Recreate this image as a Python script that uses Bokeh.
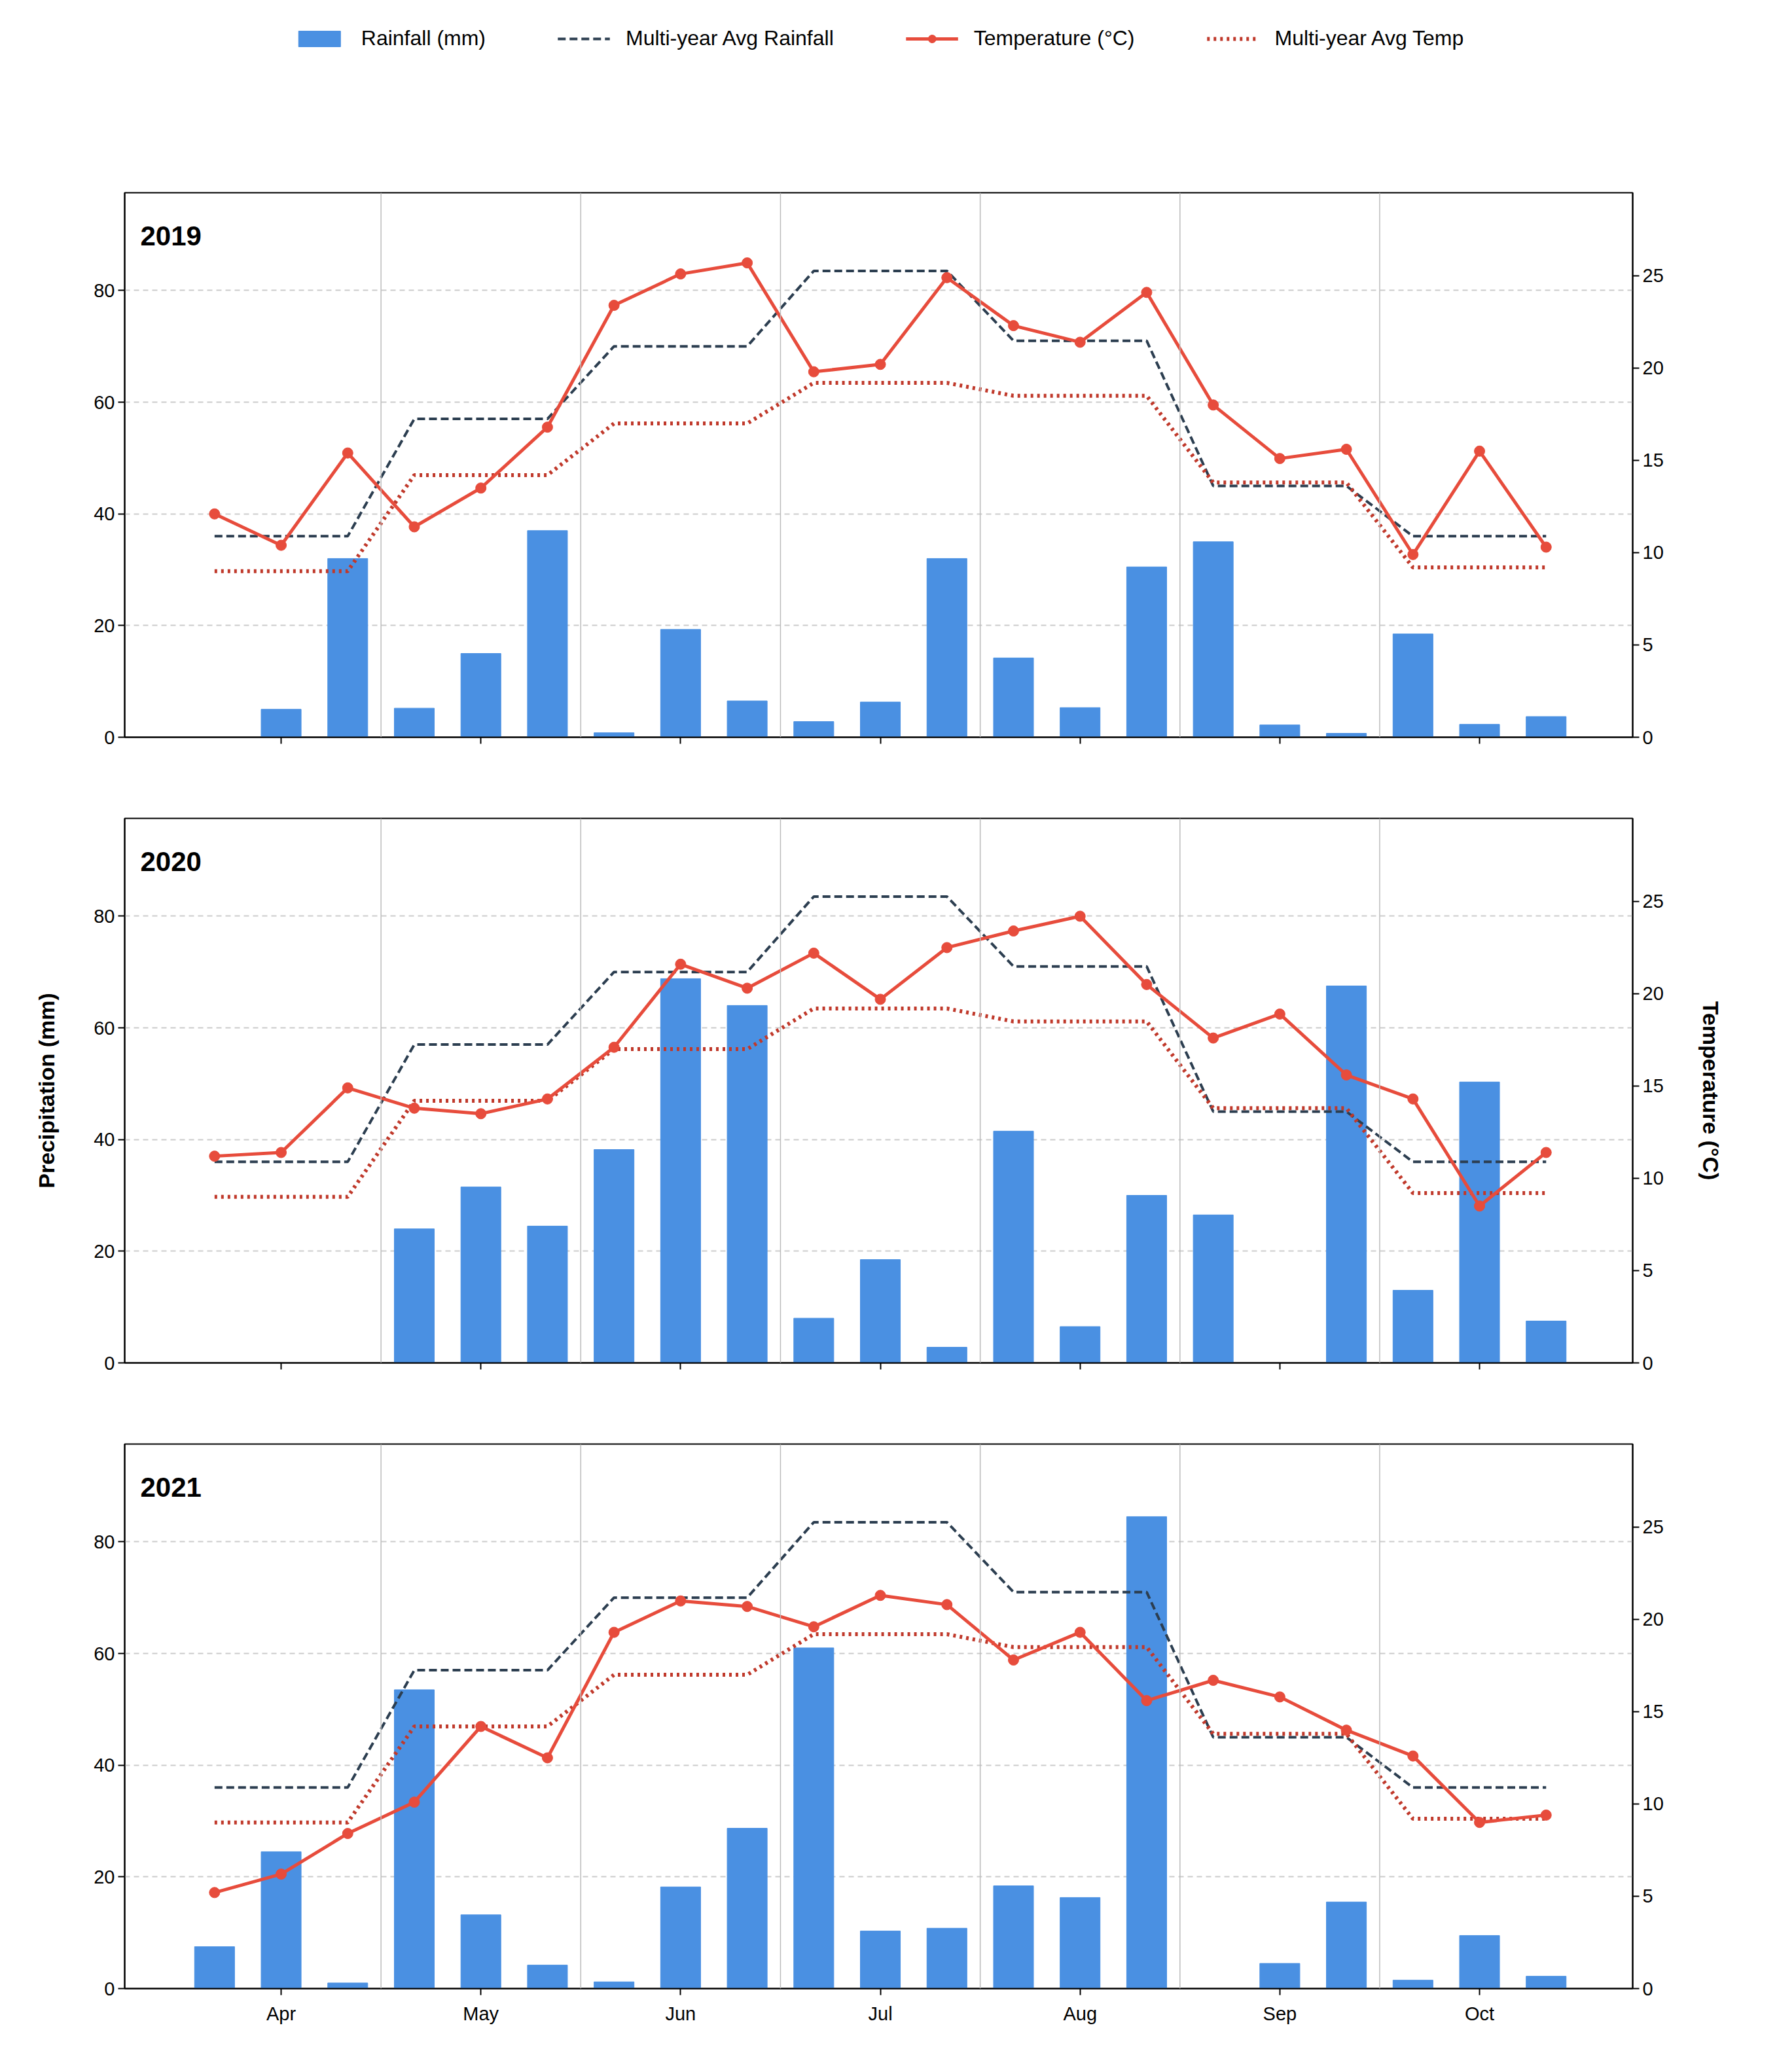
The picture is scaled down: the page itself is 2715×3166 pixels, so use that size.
from bokeh.plotting import figure
from bokeh.models import Range1d, LinearAxis, Label, Span, FixedTicker, Legend, LegendItem
from bokeh.layouts import column
from bokeh.embed import file_html
from bokeh.resources import INLINE

years = ["2019", "2020", "2021"]
months = ["Apr", "May", "Jun", "Jul", "Aug", "Sep", "Oct"]
avg_rain_month = [36, 57, 70, 83.5, 71, 45, 36]
avg_temp_month = [9, 14.2, 17, 19.2, 18.5, 13.8, 9.2]
rain = {
    "2019": [0, 5, 32, 5.2, 15, 37, 0.8, 19.3, 6.5, 2.8, 6.3, 32, 14.2, 5.3, 30.5, 35, 2.2, 0.7, 18.5, 2.3, 3.7],
    "2020": [0, 0, 0, 24, 31.5, 24.5, 38.2, 68.8, 64, 8, 18.5, 2.8, 41.5, 6.5, 30, 26.5, 0, 67.5, 13, 50.3, 7.5],
    "2021": [7.5, 24.5, 1, 53.5, 13.2, 4.2, 1.2, 18.2, 28.7, 61, 10.3, 10.8, 18.4, 16.3, 84.5, 0, 4.5, 15.5, 1.5, 9.5, 2.2],
}
temp = {
    "2019": [12.1, 10.4, 15.4, 11.4, 13.5, 16.8, 23.4, 25.1, 25.7, 19.8, 20.2, 24.9, 22.3, 21.4, 24.1, 18.0, 15.1, 15.6, 9.9, 15.5, 10.3],
    "2020": [11.2, 11.4, 14.9, 13.8, 13.5, 14.3, 17.1, 21.6, 20.3, 22.2, 19.7, 22.5, 23.4, 24.2, 20.5, 17.6, 18.9, 15.6, 14.3, 8.5, 11.4],
    "2021": [5.2, 6.2, 8.4, 10.1, 14.2, 12.5, 19.3, 21.0, 20.7, 19.6, 21.3, 20.8, 17.8, 19.3, 15.6, 16.7, 15.8, 14.0, 12.6, 9.0, 9.4],
}
x = list(range(21))
avg_rain = [v for v in avg_rain_month for _ in range(3)]
avg_temp = [v for v in avg_temp_month for _ in range(3)]

FONT = "Liberation Sans"
BLUE, NAVY, RED, DRED = "#4a90e2", "#2c3e50", "#e74c3c", "#c0392b"

lf = figure(width=2700, height=260, toolbar_location=None, output_backend="svg",
            x_range=Range1d(0, 1), y_range=Range1d(0, 1), min_border=0)
lf.axis.visible = False
lf.grid.visible = False
lf.outline_line_color = None
r1 = lf.vbar(x=[-5], top=[0], width=0.1, color=BLUE)
r2 = lf.line([-5, -4], [0, 0], color=NAVY, line_width=4, line_dash="12 6")
r3 = lf.line([-5, -4], [0, 0], color=RED, line_width=5)
r3b = lf.scatter([-5], [0], size=16, color=RED)
r4 = lf.line([-5, -4], [0, 0], color=DRED, line_width=6, line_dash="4 6")
leg = Legend(items=[LegendItem(label="Rainfall (mm)", renderers=[r1]),
                    LegendItem(label="Multi-year Avg Rainfall", renderers=[r2]),
                    LegendItem(label="Temperature (°C)", renderers=[r3, r3b]),
                    LegendItem(label="Multi-year Avg Temp", renderers=[r4])],
             orientation="horizontal", location="top_center", border_line_color=None,
             label_text_font=FONT, label_text_font_size="32px", label_text_color="black",
             glyph_width=80, glyph_height=30, spacing=110, margin=40, padding=0, label_standoff=24)
lf.add_layout(leg, "center")

figs = [lf]
for i, yr in enumerate(years):
    p = figure(width=2700, height=956, toolbar_location=None, output_backend="svg",
               x_range=Range1d(-1.35, 21.3), y_range=Range1d(0, 97.5),
               min_border_left=190, min_border_right=206, min_border_top=34, min_border_bottom=90)
    p.extra_y_ranges = {"temp": Range1d(0, 29.5)}
    p.outline_line_color = "black"
    p.outline_line_width = 2
    p.xgrid.visible = False
    p.ygrid.grid_line_dash = "8 6"
    p.ygrid.grid_line_color = "#cccccc"
    p.ygrid.grid_line_width = 2
    p.yaxis.ticker = FixedTicker(ticks=[0, 20, 40, 60, 80])
    p.xaxis.ticker = FixedTicker(ticks=[1, 4, 7, 10, 13, 16, 19])
    if i == 2:
        p.xaxis.major_label_overrides = {1 + 3 * k: m for k, m in enumerate(months)}
    else:
        p.xaxis.major_label_overrides = {1 + 3 * k: "" for k in range(7)}
    for k in range(6):
        p.add_layout(Span(location=2.5 + 3 * k, dimension="height", line_color="#bbbbbb", line_width=1.5))
    p.vbar(x=x, top=rain[yr], width=0.6, color=BLUE)
    p.line(x, avg_rain, color=NAVY, line_width=4, line_dash="12 6")
    p.line(x, avg_temp, color=DRED, line_width=6, line_dash="4 6", y_range_name="temp")
    p.line(x, temp[yr], color=RED, line_width=5, y_range_name="temp")
    p.scatter(x, temp[yr], size=16, color=RED, y_range_name="temp")
    ax = LinearAxis(y_range_name="temp", ticker=FixedTicker(ticks=[0, 5, 10, 15, 20, 25]))
    p.add_layout(ax, "right")
    for a in p.axis:
        a.axis_line_width = 2
        a.major_tick_line_width = 2
        a.major_tick_out = 10
        a.major_tick_in = 0
        a.minor_tick_line_color = None
        a.major_label_text_font = FONT
        a.major_label_text_font_size = "29px"
        a.major_label_text_color = "black"
        a.axis_label_text_font = FONT
        a.axis_label_text_font_size = "34px"
        a.axis_label_text_font_style = "bold"
        a.axis_label_text_color = "black"
        a.axis_label_standoff = 30
    p.xaxis.major_label_standoff = 12
    if i == 1:
        p.yaxis[0].axis_label = "Precipitation (mm)"
        p.yaxis[0].axis_label_standoff = 50
        ax.axis_label = "Temperature (°C)"
        ax.axis_label_standoff = 50
    p.add_layout(Label(x=24, y=766, x_units="screen", y_units="screen", text=yr,
                       text_font=FONT, text_font_size="42px", text_font_style="bold",
                       text_color="black", text_baseline="middle"))
    figs.append(p)

layout = column(*figs, spacing=0)
open("out.html", "w").write(file_html(layout, INLINE))
